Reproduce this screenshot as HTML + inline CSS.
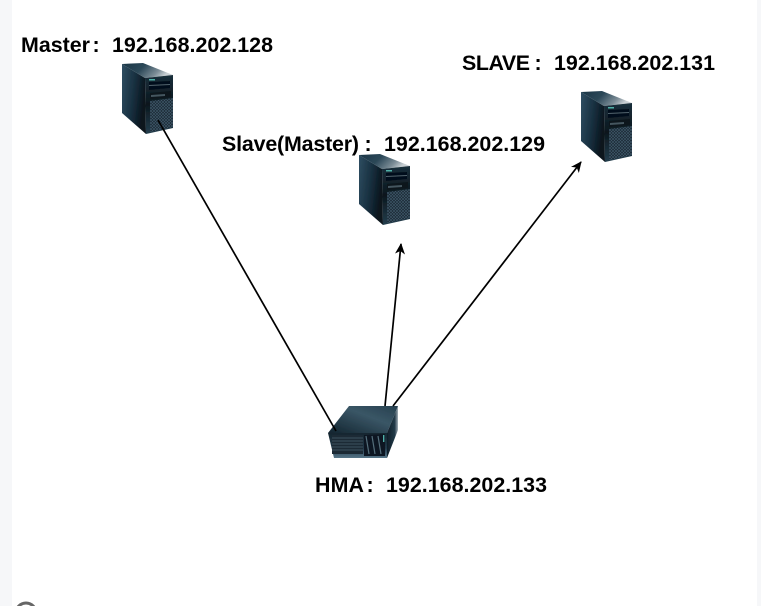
<!DOCTYPE html>
<html><head><meta charset="utf-8"><style>
html,body{margin:0;padding:0;background:#f6f7f9}
body{width:761px;height:606px;overflow:hidden;position:relative}
#p{position:absolute;left:12px;top:0;width:745px;height:606px;background:#fff}
svg{position:absolute;left:0;top:0}
text{font-family:"Liberation Sans",sans-serif;font-weight:700;font-size:21.4px;fill:#000}
</style></head><body><div id="p"></div>
<svg width="761" height="606" viewBox="0 0 761 606" xmlns="http://www.w3.org/2000/svg">
<defs>
<filter id="b" x="-5%" y="-5%" width="110%" height="110%"><feGaussianBlur stdDeviation="0.3"/></filter>
<linearGradient id="side" x1="0" y1="0" x2="1" y2="0.35"><stop offset="0" stop-color="#2f4e62"/><stop offset=".55" stop-color="#183040"/><stop offset="1" stop-color="#08141c"/></linearGradient>
<linearGradient id="top" x1="0" y1="0" x2="1" y2="0.3"><stop offset="0" stop-color="#1a3546"/><stop offset=".45" stop-color="#2c4858"/><stop offset=".8" stop-color="#7c8d97"/><stop offset="1" stop-color="#c9d0d4"/></linearGradient>
<linearGradient id="front" x1="0" y1="0" x2="0" y2="1"><stop offset="0" stop-color="#1a2f3b"/><stop offset=".5" stop-color="#0b171e"/><stop offset="1" stop-color="#243e4d"/></linearGradient>
<linearGradient id="htop" x1="0" y1="1" x2="1" y2="0"><stop offset="0" stop-color="#12242f"/><stop offset=".6" stop-color="#3a5666"/><stop offset="1" stop-color="#26404f"/></linearGradient>
<linearGradient id="hside" x1="0" y1="0" x2="1" y2="0"><stop offset="0" stop-color="#0f1e28"/><stop offset=".7" stop-color="#223a48"/><stop offset="1" stop-color="#a3b0b8"/></linearGradient>
<linearGradient id="hfront" x1="0" y1="0" x2="0" y2="1"><stop offset="0" stop-color="#16262f"/><stop offset=".6" stop-color="#21394a"/><stop offset="1" stop-color="#577688"/></linearGradient>
<pattern id="grille" width="3" height="3" patternUnits="userSpaceOnUse"><rect width="3" height="3" fill="#1a2b36"/><path d="M0 3L3 0M0 0L3 3" stroke="#40596a" stroke-width=".6"/></pattern>
<g id="tower" filter="url(#b)">
<polygon points="1,1 24,15 25,71 1,50" fill="url(#side)"/>
<polygon points="1,1 22,0 52,12 24,15" fill="url(#top)"/>
<polygon points="24,15 52,12 52,65 25,71" fill="url(#front)"/>
<rect x="28" y="16" width="6" height="1.5" fill="#4fb0a8"/>
<polygon points="28,19 49,18 49,25 28,27" fill="#06101a"/>
<polygon points="28,22 49,21 49,22 28,23" fill="#52656f"/>
<polygon points="29,30 50,28 50,34 29,36" fill="#0a151c"/>
<polygon points="30,32 44,31 44,33 30,34" fill="#44565f"/>
<polygon points="29,38 52,35 52,64 29,69" fill="url(#grille)"/>
</g>
<marker id="a" markerWidth="12" markerHeight="12" refX="10" refY="5" orient="auto" markerUnits="userSpaceOnUse"><path d="M0 0L11 5L0 10L3 5Z" fill="#000"/></marker>
</defs>
<use href="#tower" x="121" y="63"/>
<use href="#tower" x="358" y="154"/>
<use href="#tower" x="580" y="91"/>
<g filter="url(#b)">
<polygon points="349,406 398,406 387,433 328,433" fill="url(#htop)"/>
<polygon points="398,406 398,430 387,458 387,433" fill="url(#hside)"/>
<polygon points="328,433 387,433 387,458 334,458" fill="url(#hfront)"/>
<rect x="332" y="435" width="31" height="19" fill="#1b2c36"/>
<path d="M332 438H363M332 441H363M332 444H363M332 447H363M332 450H363" stroke="#45606f" stroke-width=".8"/>
<polygon points="364,435 385,434 385,456 364,456" fill="#0c1921"/>
<path d="M366 436L369 454M372 436L375 454M378 436L381 454" stroke="#556e7c" stroke-width="1.2"/>
<rect x="383" y="435" width="1.4" height="7" fill="#4fb0a8"/>
</g>
<g stroke="#000" stroke-width="1.7" fill="none">
<line x1="158" y1="120" x2="336" y2="431"/>
<line x1="385" y1="406" x2="401" y2="244" marker-end="url(#a)"/>
<line x1="393" y1="406" x2="581" y2="162" marker-end="url(#a)"/>
</g>
<text x="21" y="52" textLength="69">Master</text><text x="92.5" y="52">:</text><text x="112" y="52" textLength="161">192.168.202.128</text>
<text x="462" y="70" textLength="68">SLAVE</text><text x="534.5" y="70">:</text><text x="554" y="70" textLength="161">192.168.202.131</text>
<text x="222" y="151" textLength="137">Slave(Master)</text><text x="364.5" y="151">:</text><text x="384" y="151" textLength="161">192.168.202.129</text>
<text x="315" y="492" textLength="49">HMA</text><text x="366.5" y="492">:</text><text x="386" y="492" textLength="161">192.168.202.133</text>
<circle cx="26" cy="613" r="10" fill="#fff" stroke="#666" stroke-width="3"/>
</svg>
</body></html>
